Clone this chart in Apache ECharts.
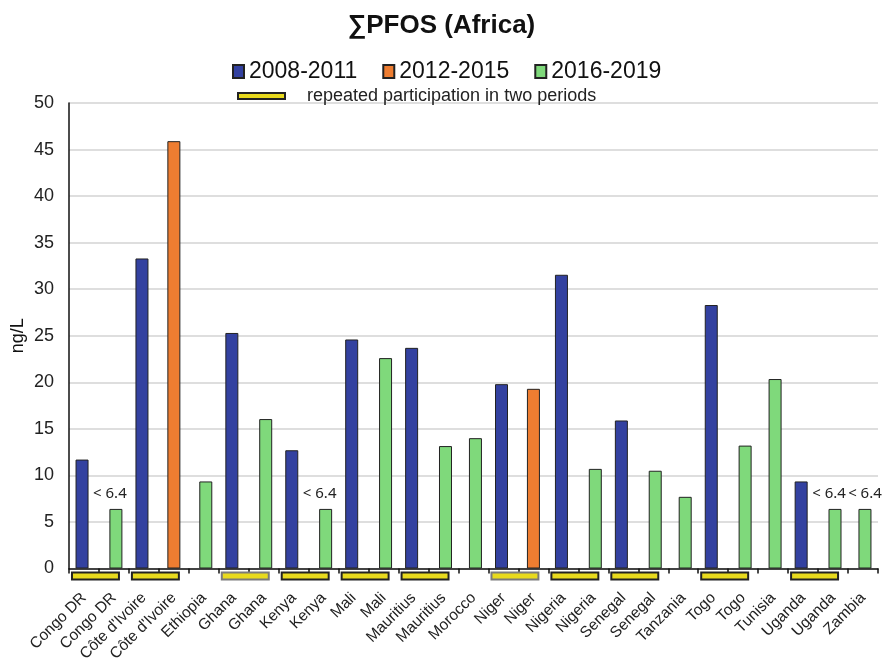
<!DOCTYPE html>
<html>
<head>
<meta charset="utf-8">
<script src="https://cdn.jsdelivr.net/npm/echarts@6/dist/echarts.min.js"></script>
<style>
html,body{margin:0;padding:0;background:#fff;}
#chart{width:883px;height:659px;}
</style>
</head>
<body>
<div id="chart"></div>
<script>
const categories = ['Congo DR','Congo DR',"Côte d'Ivoire","Côte d'Ivoire",'Ethiopia','Ghana','Ghana','Kenya','Kenya','Mali','Mali','Mauritius','Mauritius','Morocco','Niger','Niger','Nigeria','Nigeria','Senegal','Senegal','Tanzania','Togo','Togo','Tunisia','Uganda','Uganda','Zambia'];
const seriesNames = ['2008-2011','2012-2015','2016-2019'];
const s2008 = [11.7,null,33.3,null,null,25.3,null,12.7,null,24.6,null,23.7,null,null,19.8,null,31.55,null,15.9,null,null,28.3,null,null,9.35,null,null];
const s2012 = [null,null,null,45.9,null,null,null,null,null,null,null,null,null,null,null,19.3,null,null,null,null,null,null,null,null,null,null,null];
const s2016 = [null,6.4,null,null,9.35,null,16.05,null,6.4,null,22.6,null,13.15,14.0,null,null,null,10.7,null,10.5,7.7,null,13.2,20.35,null,6.4,6.4];
const loqLabels = [null,'< 6.4',null,null,null,null,null,null,'< 6.4',null,null,null,null,null,null,null,null,null,null,null,null,null,null,null,null,'< 6.4','< 6.4'];
const repeatedPairs = [[0,1],[2,3],[5,6],[7,8],[9,10],[11,12],[14,15],[16,17],[18,19],[21,22],[24,25]];
const fadedPairStarts = [5,14];
const repeatedName = 'repeated participation in two periods';
const yTicks = {min:0, max:50, interval:5};

const FONT = "'Liberation Sans', Arial, Helvetica, sans-serif";
const colors = ['#3341a0','#ee7d31','#7fd97b'];

const chart = echarts.init(document.getElementById('chart'), null, {renderer:'canvas'});

function barSeries(name, data, color, withLabels){
  return {
    name: name,
    type: 'bar',
    barWidth: 13,
    barGap: '-85%',
    itemStyle: {color: color, borderColor: '#222', borderWidth: 1},
    data: data.map((v,i) => {
      if (v == null) return '-';
      if (withLabels && loqLabels[i]) {
        return {value: v, label: {show: true, position: 'top', distance: 8,
          offset: [i === categories.length-1 ? 0 : -6, 0],
          formatter: loqLabels[i], fontSize: 15, color: '#222', fontFamily: "'Noto Sans', 'Open Sans', sans-serif"}};
      }
      return v;
    })
  };
}

const markerData = repeatedPairs.map(p => [p[0], p[1], 0, fadedPairStarts.includes(p[0]) ? 1 : 0]);

const option = {
  backgroundColor: '#fff',
  animation: false,
  title: {
    text: '\u2211PFOS (Africa)',
    left: 'center', top: 8,
    textStyle: {fontFamily: FONT, fontSize: 26, fontWeight: 'bold', color: '#111'}
  },
  legend: [
    {
      data: seriesNames,
      top: 55, left: 227,
      icon: 'rect', itemWidth: 11, itemHeight: 13, itemGap: 25, itemTextGap: 6,
      textStyle: {fontFamily: FONT, fontSize: 23, color: '#111'}
    },
    {
      data: [repeatedName],
      top: 82, left: 232,
      icon: 'rect', itemWidth: 47, itemHeight: 6, itemTextGap: 22,
      textStyle: {fontFamily: FONT, fontSize: 18, color: '#222', padding: [0,0,0,17]}
    }
  ],
  grid: {left: 69, right: 5, top: 103, bottom: 90.5, containLabel: false, outerBoundsMode: 'none'},
  xAxis: {
    type: 'category',
    data: categories,
    axisLine: {show: true, lineStyle: {color: '#111', width: 1.5}},
    axisTick: {show: true, interval: 0, length: 5, lineStyle: {color: '#111', width: 1.5}},
    axisLabel: {interval: 0, rotate: 45, fontSize: 15.5, margin: 27, color: '#222', fontFamily: FONT},
    splitLine: {show: false}
  },
  yAxis: {
    type: 'value',
    min: yTicks.min, max: yTicks.max, interval: yTicks.interval,
    name: 'ng/L', nameLocation: 'middle', nameGap: 42, nameMoveOverlap: false,
    nameTextStyle: {fontFamily: FONT, fontSize: 18, color: '#111'},
    axisLine: {show: true, lineStyle: {color: '#111', width: 1.5}},
    axisTick: {show: false},
    axisLabel: {fontSize: 18, margin: 15, color: '#222', fontFamily: FONT},
    splitLine: {show: true, lineStyle: {color: '#dedede', width: 2}}
  },
  series: [
    barSeries(seriesNames[0], s2008, colors[0], false),
    barSeries(seriesNames[1], s2012, colors[1], false),
    barSeries(seriesNames[2], s2016, colors[2], true),
    {
      name: repeatedName,
      type: 'custom',
      clip: false,
      itemStyle: {color: '#e8da1e', borderColor: '#222', borderWidth: 2},
      encode: {x: [0,1], y: 2},
      data: markerData,
      z: 5,
      renderItem: function(params, api){
        const a = api.coord([api.value(0), 0]);
        const b = api.coord([api.value(1), 0]);
        const faded = api.value(3) === 1;
        return {
          type: 'rect',
          shape: {x: a[0]-12, y: a[1]+4, width: b[0]-a[0]+17, height: 7},
          style: {fill: '#e8da1e', stroke: faded ? '#7a7a7a' : '#222', lineWidth: 2}
        };
      }
    }
  ]
};
chart.setOption(option);
</script>
</body>
</html>
